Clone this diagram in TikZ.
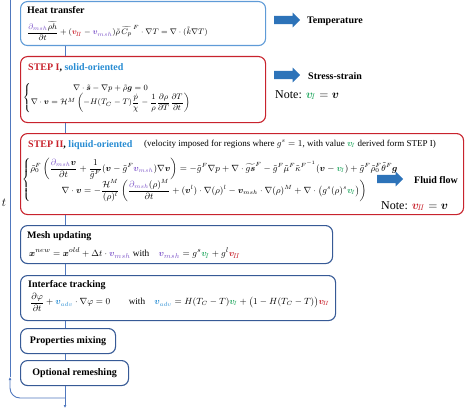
\documentclass[tikz,border=0pt]{standalone}
\usepackage{amsmath,bm}
\usepackage{fontspec}
\setmainfont{Liberation Serif}
\usetikzlibrary{positioning,arrows.meta,shapes.arrows}

\definecolor{stepred}{RGB}{200,35,45}
\definecolor{lightblue}{RGB}{95,155,215}
\definecolor{darkblue}{RGB}{55,90,150}
\definecolor{lineblue}{RGB}{80,120,190}
\definecolor{solidblue}{RGB}{40,140,210}
\definecolor{vgreen}{RGB}{40,170,100}
\definecolor{vpurple}{RGB}{125,85,200}
\definecolor{arrowblue}{RGB}{45,115,185}

\newcommand{\vI}{{\color{vgreen}\bm{v}_{\!I}}}
\newcommand{\vII}{{\color{stepred}\bm{v}_{\!I\!I}}}
\newcommand{\vmsh}{{\color{vpurple}\bm{v}_{msh}}}
\newcommand{\vadv}{{\color{solidblue}\bm{v}_{adv}}}
\newcommand{\dmsh}{{\color{vpurple}\partial_{msh}}}

\tikzset{
  box/.style={rounded corners=7pt, line width=1.1pt, anchor=north west, inner sep=0pt},
  title/.style={anchor=base west, font=\bfseries, inner sep=0pt},
  eqn/.style={anchor=west, inner sep=0pt},
  flow/.style={draw=lineblue, line width=0.9pt},
  bigarrow/.style={single arrow, fill=arrowblue, minimum height=26pt, inner xsep=0pt,
    inner ysep=4pt, single arrow head extend=3.2pt},
  result/.style={anchor=west, font=\bfseries, inner sep=0pt},
}

\begin{document}
\begin{tikzpicture}[x=1pt,y=-1pt,>=Latex]
  \useasboundingbox (0,0) rectangle (465,409);
  \coordinate (sp) at (65,0);
  \node[box, draw=lightblue, minimum width=245pt, minimum height=44pt] (heat) at (20,1) {};
  \node[box, draw=stepred, minimum width=245pt, minimum height=66pt] (step1) at (20,56) {};
  \node[box, draw=stepred, minimum width=443pt, minimum height=81pt] (step2) at (20,133) {};
  \node[box, draw=darkblue, minimum width=312pt, minimum height=38pt] (mesh) at (20,225) {};
  \node[box, draw=darkblue, minimum width=315pt, minimum height=45pt] (interf) at (20,275) {};
  \node[box, draw=darkblue, minimum width=95pt, minimum height=25pt, font=\bfseries] (mixing) at (20,328) {Properties mixing};
  \node[box, draw=darkblue, minimum width=108pt, minimum height=25pt, font=\bfseries] (remesh) at (20,360) {Optional remeshing};

  \node[title] (heatT) at (27,14) {Heat transfer};
  \node[eqn, font=\fontsize{8.2}{10}\selectfont] (heatE) at (27,31) {$\dfrac{\dmsh\widetilde{\rho h}}{\partial t}+(\vII-\vmsh)\tilde\rho\,\widetilde{C_p}^{\,F}\cdot\nabla T=\nabla\cdot(\tilde k\nabla T)$};

  \node[title] (step1T) at (28,71) {{\color{stepred}STEP I}, {\color{solidblue}solid-oriented}};
  \node[eqn, font=\fontsize{8.3}{10}\selectfont] (step1E) at (23,98) {$\left\{\begin{array}{@{}c@{}}
    \nabla\cdot\tilde{\bm s}-\nabla p+\tilde\rho\bm g=0\\
    \nabla\cdot\bm v=\mathcal{H}^M\left(-H(T_C-T)\dfrac{\dot p}{\chi}-\dfrac{1}{\rho}\dfrac{\partial\rho}{\partial T}\dfrac{\partial T}{\partial t}\right)
  \end{array}\right.$};

  \node[title] (step2T) at (28,147) {{\color{stepred}STEP II}, {\color{solidblue}liquid-oriented}};
  \node[anchor=base west, font=\small, inner sep=0pt] (step2N) at (144,146) {(velocity imposed for regions where $g^s=1$, with value $\vI$ derived form STEP I)};
  \node[eqn, font=\fontsize{9.1}{11}\selectfont] (step2E) at (22,180) {$\left\{\begin{array}{@{}c@{}}
    \tilde\rho_0^F\left(\dfrac{\dmsh\bm v}{\partial t}+\dfrac{1}{\tilde g^F}(\bm v-\tilde g^F\vmsh)\nabla\bm v\right)=-\tilde g^F\nabla p+\nabla\cdot\widetilde{g\bm s}^F-\tilde g^F\tilde\mu^F\tilde\kappa^{F^{-1}}(\bm v-\vI)+\tilde g^F\tilde\rho_0^F\tilde\theta^F\bm g\\[2pt]
    \nabla\cdot\bm v=-\dfrac{\mathcal{H}^M}{(\rho)^l}\left(\dfrac{\dmsh(\rho)^M}{\partial t}+(\bm v^l)\cdot\nabla(\rho)^l-\bm v_{msh}\cdot\nabla(\rho)^M+\nabla\cdot\bigl(g^s(\rho)^s\vI\bigr)\right)
  \end{array}\right.$};

  \node[title] (meshT) at (27,238) {Mesh updating};
  \node[eqn, font=\fontsize{9.3}{11}\selectfont] (meshE) at (29,253) {$\bm x^{new}=\bm x^{old}+\Delta t\cdot\vmsh$ with\quad $\vmsh=g^s\vI+g^l\vII$};

  \node[title] (interfT) at (28,287) {Interface tracking};
  \node[eqn, font=\fontsize{9.2}{11}\selectfont] (interfE) at (30,302) {$\dfrac{\partial\varphi}{\partial t}+\vadv\cdot\nabla\varphi=0$\qquad with\quad $\vadv=H(T_C-T)\vI+\bigl(1-H(T_C-T)\bigr)\vII$};

  \node[bigarrow] (arrT) at (285,20) {};
  \node[result] (temp) at (307,21) {Temperature};
  \node[bigarrow] (arrS) at (285,75) {};
  \node[result] (stress) at (308,76) {Stress-strain};
  \node[anchor=west, inner sep=0pt, font=\large] (note1) at (275,95) {Note: $\vI=\bm v$};
  \node[bigarrow] (arrF) at (388,179) {};
  \node[result] (fluid) at (414,180) {Fluid flow};
  \node[anchor=west, inner sep=0pt, font=\large] (note2) at (381,206) {Note: $\vII=\bm v$};

  \draw[flow] (heat.south -| sp) -- (step1.north -| sp);
  \draw[flow] (step1.south -| sp) -- (step2.north -| sp);
  \draw[flow] (step2.south -| sp) -- (mesh.north -| sp);
  \draw[flow] (mesh.south -| sp) -- (interf.north -| sp);
  \draw[flow] (interf.south -| sp) -- (mixing.north -| sp);
  \draw[flow] (mixing.south -| sp) -- (remesh.north -| sp);
  \coordinate (bottom) at (65,408);
  \coordinate (split) at (65,398);
  \coordinate (loopArr) at (10,377);
  \coordinate (loopTop) at (10,0);
  \draw[flow,-{Latex[length=3pt,width=3pt]}] (remesh.south -| sp) -- (bottom);
  \draw[flow,-{Latex[length=3pt,width=3pt]},rounded corners=10pt] (split) -| (loopArr);
  \draw[flow] (loopArr) -- (loopTop);
  \node[font=\large] (tlab) at (4,203) {$t$};
\end{tikzpicture}
\end{document}
